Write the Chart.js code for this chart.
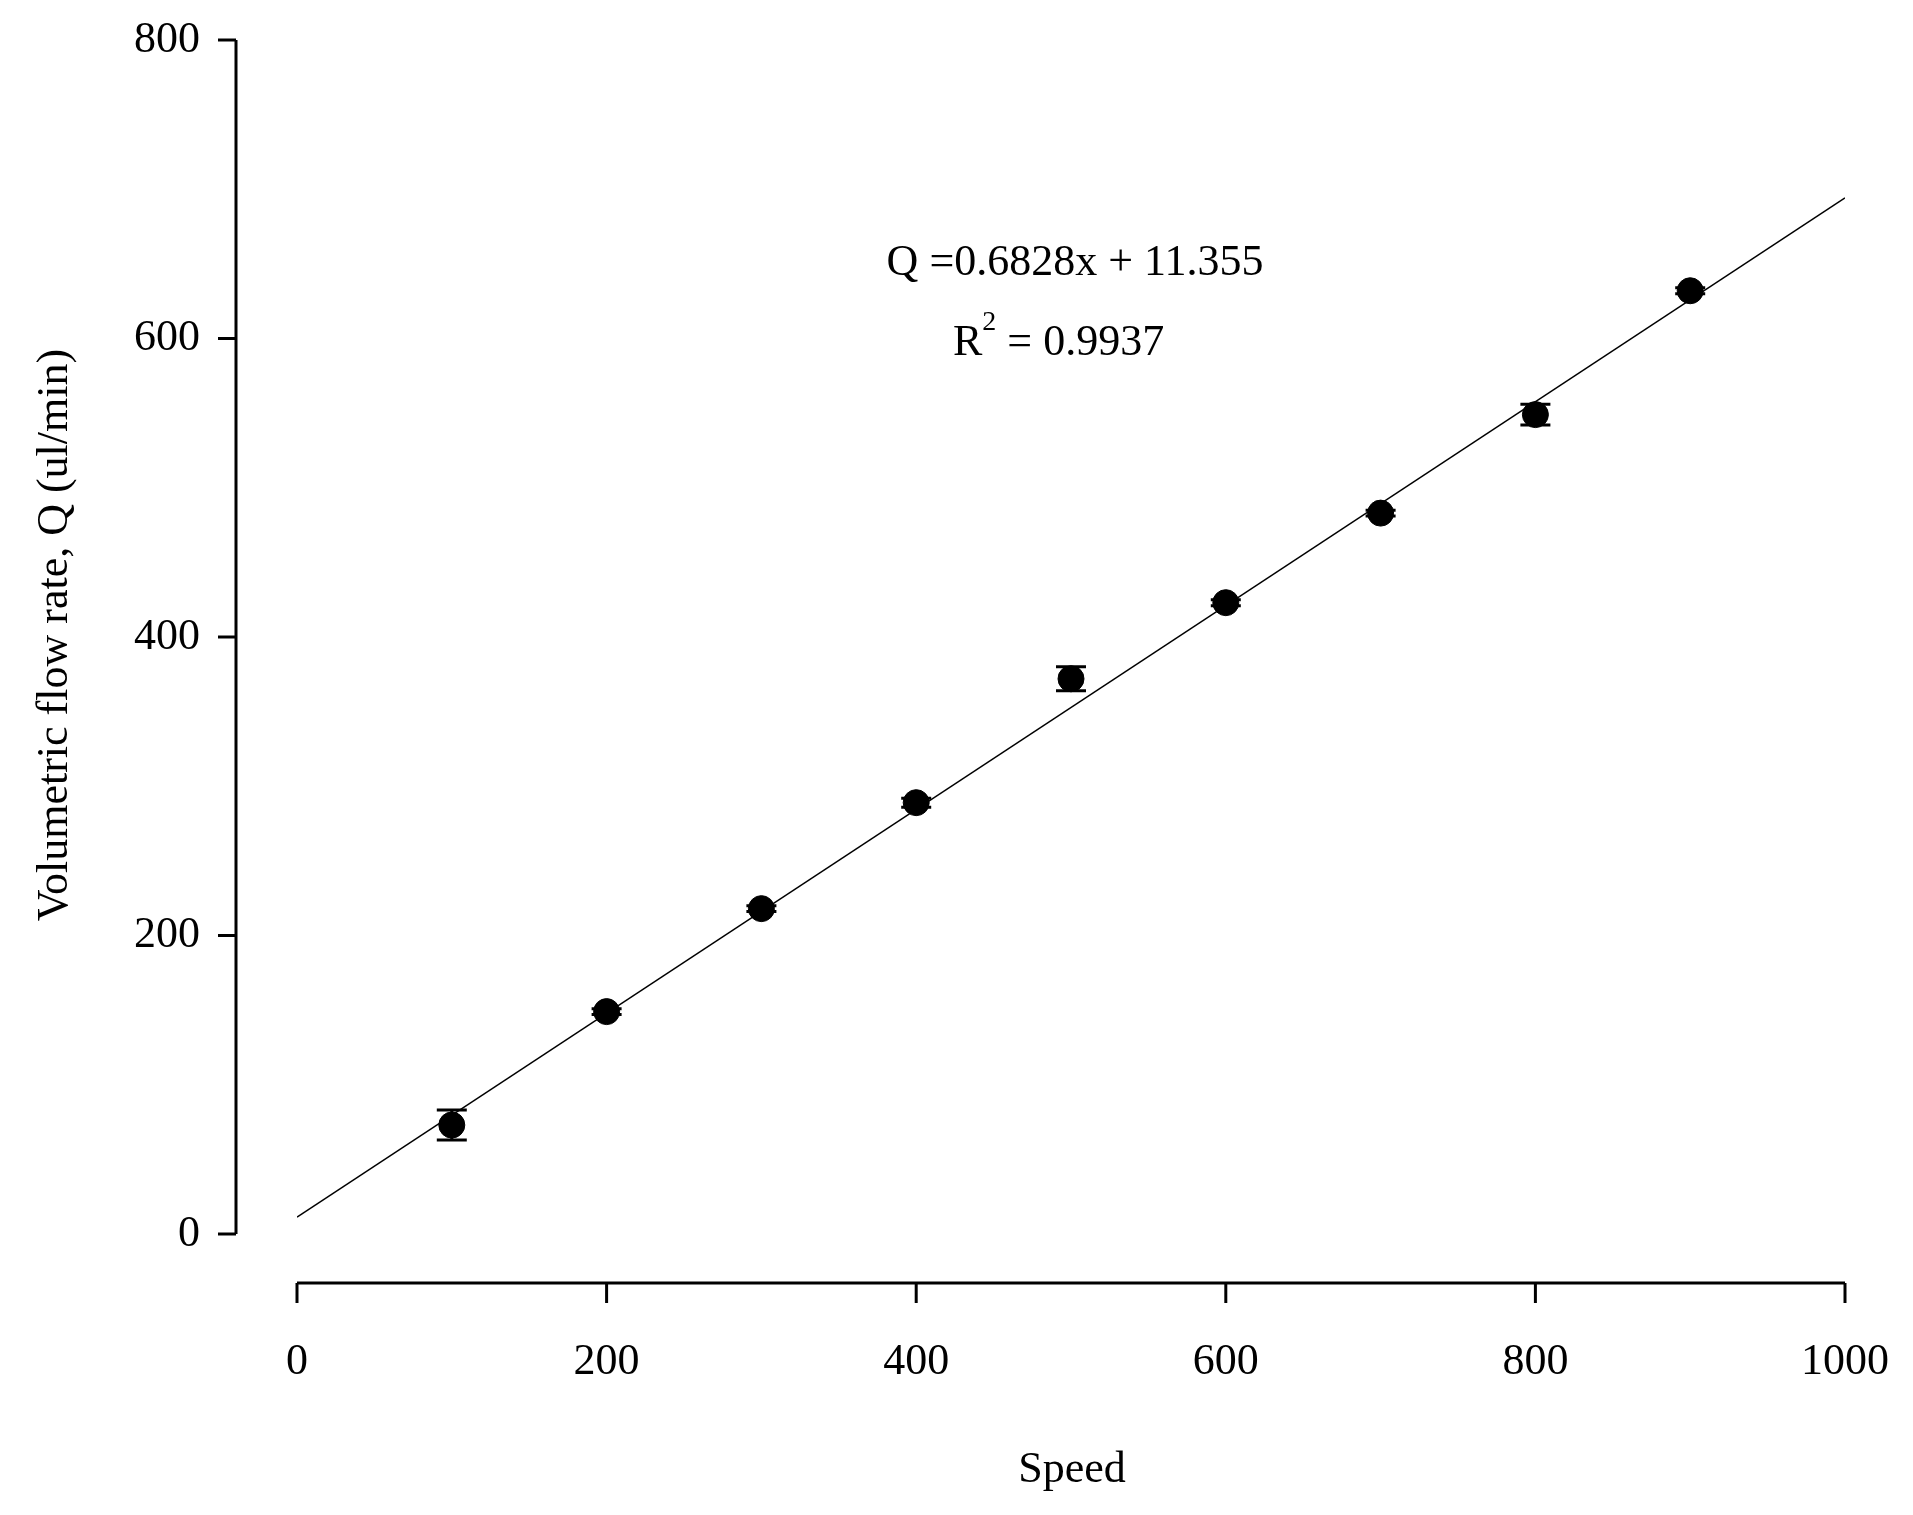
<!DOCTYPE html><html><head><meta charset="utf-8">
<script src="https://cdn.jsdelivr.net/npm/chart.js@4/dist/chart.umd.min.js"></script>
<style>html,body{margin:0;background:#fff}#w{width:1913px;height:1515px}</style></head><body>
<div id="w"><canvas id="c"></canvas></div>
<script>
const speeds=[100,200,300,400,500,600,700,800,900];
const flow=[73,149,218,289,372,423,483,549,632];
const errs=[10,2,2,3,8,2,2,7,2];
const xTicks=[0,200,400,600,800,1000];
const yTicks=[0,200,400,600,800];
const fitSlope=0.6828, fitIntercept=11.355;
const fitX=[0,1000];
const FONT='"Liberation Serif","Times New Roman",serif';
const deco={id:'deco',afterDatasetsDraw(ch){
 const c=ch.ctx,x=ch.scales.x,y=ch.scales.y;
 c.save();c.strokeStyle='#000';c.fillStyle='#000';
 // error bars
 c.lineWidth=3;
 speeds.forEach((s,i)=>{const px=x.getPixelForValue(s),t=y.getPixelForValue(flow[i]+errs[i]),b=y.getPixelForValue(flow[i]-errs[i]);
  c.beginPath();c.moveTo(px,t);c.lineTo(px,b);c.moveTo(px-15,t);c.lineTo(px+15,t);c.moveTo(px-15,b);c.lineTo(px+15,b);c.stroke();});
 // y axis offset left
 const ax=236;c.lineWidth=3;
 c.beginPath();c.moveTo(ax,y.getPixelForValue(800));c.lineTo(ax,y.getPixelForValue(0));c.stroke();
 c.font='44px '+FONT;c.textAlign='right';c.textBaseline='middle';
 yTicks.forEach(v=>{const py=y.getPixelForValue(v);c.beginPath();c.moveTo(ax-18,py);c.lineTo(ax,py);c.stroke();c.fillText(String(v),200,py);});
 // x axis offset down
 const ay=1283;
 c.beginPath();c.moveTo(x.getPixelForValue(0),ay);c.lineTo(x.getPixelForValue(1000),ay);c.stroke();
 c.textAlign='center';c.textBaseline='top';
 xTicks.forEach(v=>{const px=x.getPixelForValue(v);c.beginPath();c.moveTo(px,ay);c.lineTo(px,ay+20);c.stroke();c.fillText(String(v),px,1340);});
 // titles
 c.fillText('Speed',1072,1448);
 c.save();c.translate(55,635);c.rotate(-Math.PI/2);c.textBaseline='middle';c.fillText('Volumetric flow rate, Q (ul/min)',0,0);c.restore();
 // equation
 c.textBaseline='alphabetic';c.textAlign='center';
 c.fillText('Q =0.6828x + 11.355',1075,275);
 c.textAlign='left';const rx=953;c.fillText('R',rx,355);const rw=c.measureText('R').width;
 c.font='28px '+FONT;c.fillText('2',rx+rw,330);
 c.font='44px '+FONT;c.fillText(' = 0.9937',rx+rw+14,355);
 c.restore();}};
new Chart(document.getElementById('c'),{type:'scatter',
 data:{datasets:[
  {data:fitX.map(v=>({x:v,y:fitSlope*v+fitIntercept})),showLine:true,borderColor:'#000',borderWidth:1.5,pointRadius:0},
  {data:speeds.map((s,i)=>({x:s,y:flow[i]})),backgroundColor:'#000',borderColor:'#000',pointRadius:13}]},
 options:{responsive:true,maintainAspectRatio:false,animation:false,events:[],
  layout:{padding:{top:40,right:68,left:0,bottom:0}},
  plugins:{legend:{display:false},tooltip:{enabled:false}},
  scales:{x:{type:'linear',min:0,max:1000,grid:{display:false},border:{display:false},ticks:{display:false,stepSize:200},afterFit(s){s.height=281;}},
   y:{min:0,max:800,grid:{display:false},border:{display:false},ticks:{display:false,stepSize:200},afterFit(s){s.width=297;}}}},
 plugins:[deco]});
</script></body></html>
